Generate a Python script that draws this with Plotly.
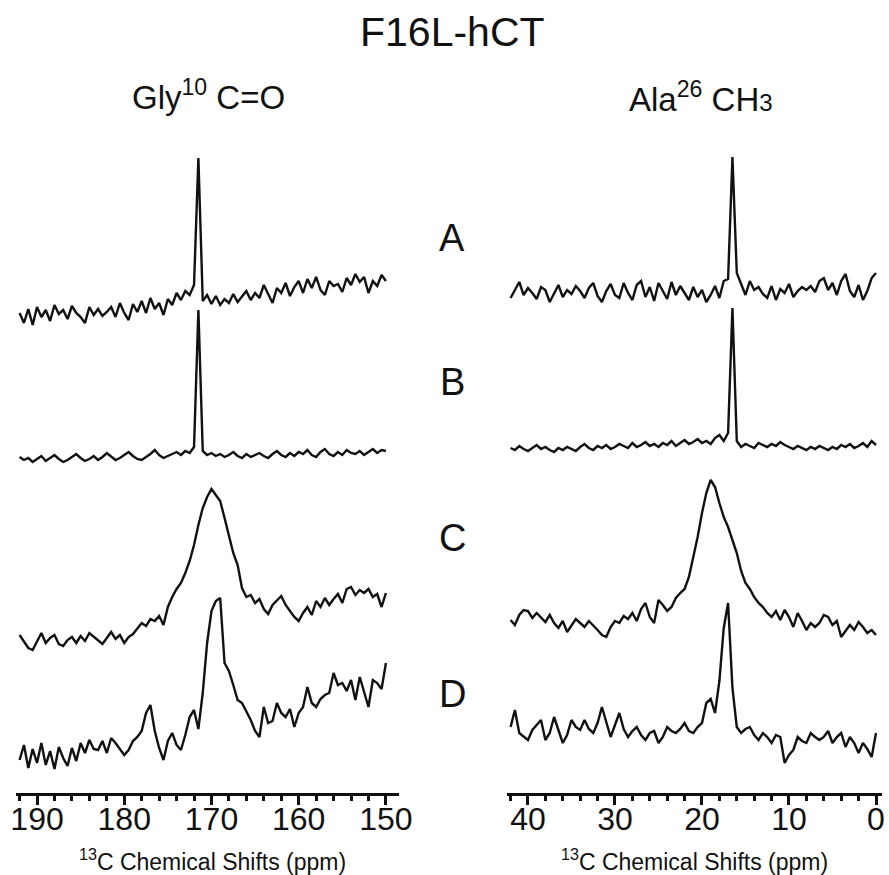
import plotly.graph_objects as go

# Chemical shift sampling (ppm)
GLY_PPM = [round(192.0 - 0.5 * k, 1) for k in range(85)]
ALA_PPM = [round(42.0 - 0.5 * k, 1) for k in range(85)]

# Gly10 C=O spectra (intensity, arbitrary units)
GLY_A = [480, 470, 484, 468, 486, 476, 483, 472, 488, 479,
         483, 474, 487, 480, 476, 470, 486, 478, 484, 477,
         481, 486, 476, 490, 480, 473, 489, 481, 492, 480,
         495, 484, 490, 478, 494, 488, 500, 493, 502, 498,
         508, 635, 492, 498, 489, 497, 488, 494, 490, 499,
         491, 496, 502, 493, 500, 495, 508, 499, 490, 505,
         500, 510, 497, 506, 512, 500, 514, 505, 516, 503,
         498, 512, 507, 509, 501, 515, 508, 519, 511, 516,
         500, 512, 507, 518, 512]
GLY_B = [336, 333, 335, 331, 334, 337, 332, 335, 338, 334,
         331, 333, 336, 339, 335, 332, 334, 337, 333, 336,
         340, 336, 333, 335, 338, 341, 337, 334, 333, 336,
         339, 343, 338, 335, 337, 339, 341, 338, 342, 340,
         346, 483, 342, 338, 340, 337, 339, 336, 338, 341,
         337, 335, 339, 336, 338, 340, 337, 335, 339, 342,
         338, 336, 340, 337, 341, 339, 343, 338, 336, 341,
         344, 339, 337, 341, 338, 343, 340, 339, 342, 338,
         341, 344, 340, 343, 342]
GLY_C = [158, 152, 145, 143, 152, 160, 150, 155, 158, 149,
         147, 153, 156, 150, 157, 152, 160, 156, 153, 149,
         155, 161, 154, 158, 150, 156, 159, 165, 170, 167,
         174, 172, 177, 168, 186, 196, 204, 210, 220, 232,
         248, 268, 285, 296, 304, 298, 292, 275, 258, 240,
         228, 205, 196, 198, 190, 194, 184, 179, 188, 192,
         197, 188, 182, 176, 172, 180, 186, 178, 192, 186,
         195, 188, 194, 199, 190, 204, 206, 198, 203, 200,
         204, 196, 199, 186, 200]
GLY_D = [33, 48, 25, 44, 30, 50, 28, 42, 24, 46,
         35, 27, 45, 32, 50, 40, 53, 44, 43, 52,
         40, 55, 50, 44, 38, 43, 52, 56, 62, 80,
         88, 62, 45, 33, 52, 60, 48, 43, 58, 76,
         83, 64, 100, 150, 182, 192, 195, 130, 122, 108,
         93, 90, 82, 73, 62, 56, 86, 70, 72, 90,
         80, 76, 84, 66, 80, 86, 106, 90, 86, 94,
         98, 100, 120, 108, 110, 102, 113, 93, 116, 100,
         86, 113, 110, 104, 130]

# Ala26 CH3 spectra
ALA_A = [495, 503, 511, 498, 505, 500, 494, 506, 503, 491,
         500, 508, 496, 503, 499, 507, 502, 495, 505, 510,
         497, 491, 502, 509, 498, 495, 510, 500, 493, 508,
         512, 496, 506, 492, 510, 502, 494, 511, 498, 507,
         500, 493, 506, 496, 503, 491, 498, 507, 495, 512,
         514, 636, 520, 508, 498, 512, 503, 506, 499, 495,
         507, 493, 504, 500, 509, 496, 502, 506, 503, 507,
         501, 512, 515, 503, 510, 498, 512, 519, 502, 496,
         508, 493, 502, 515, 520]
ALA_B = [345, 343, 347, 344, 342, 345, 348, 344, 346, 343,
         341, 345, 343, 346, 344, 342, 346, 349, 345, 343,
         347, 345, 348, 344, 346, 349, 347, 345, 350, 346,
         348, 351, 347, 349, 346, 350, 348, 352, 347, 350,
         353, 349, 351, 354, 350, 352, 349, 355, 358, 352,
         360, 485, 352, 346, 349, 347, 345, 350, 348, 346,
         349, 347, 351, 348, 346, 344, 347, 345, 343, 346,
         344, 347, 345, 343, 346, 344, 348, 346, 349, 345,
         347, 350, 346, 352, 348]
ALA_C = [173, 168, 178, 183, 182, 175, 180, 176, 171, 178,
         170, 165, 172, 161, 168, 174, 170, 166, 172, 168,
         163, 158, 156, 166, 172, 170, 177, 174, 180, 172,
         184, 190, 176, 170, 193, 188, 182, 186, 195, 200,
         204, 216, 236, 256, 280, 300, 313, 306, 290, 276,
         266, 252, 240, 222, 210, 204, 196, 190, 186, 180,
         176, 182, 173, 183, 176, 166, 180, 172, 163, 170,
         166, 170, 178, 176, 168, 172, 156, 162, 168, 163,
         171, 166, 160, 163, 158]
ALA_D = [66, 83, 60, 56, 53, 63, 68, 73, 53, 60,
         76, 62, 50, 58, 73, 66, 63, 73, 64, 60,
         70, 86, 72, 56, 68, 80, 64, 56, 62, 66,
         58, 53, 60, 62, 50, 56, 66, 62, 60, 64,
         70, 62, 60, 66, 70, 90, 94, 80, 112, 165,
         190, 105, 66, 60, 64, 66, 58, 53, 60, 56,
         50, 58, 56, 30, 38, 43, 56, 52, 50, 60,
         56, 53, 56, 62, 50, 56, 60, 46, 56, 50,
         40, 50, 44, 36, 60]

TRACE_LABELS = ["A", "B", "C", "D"]
GLY_TICKS = [190, 180, 170, 160, 150]
ALA_TICKS = [40, 30, 20, 10, 0]

FONT = "Liberation Sans, Arial, sans-serif"
W, H = 889, 875
PLOT_BOTTOM = 793  # pixel row of the axis lines

fig = go.Figure()
for ys in (GLY_A, GLY_B, GLY_C, GLY_D):
    fig.add_trace(go.Scatter(x=GLY_PPM, y=ys, mode="lines", xaxis="x", yaxis="y",
                             line=dict(color="#111111", width=2.4), showlegend=False,
                             hoverinfo="skip"))
for ys in (ALA_A, ALA_B, ALA_C, ALA_D):
    fig.add_trace(go.Scatter(x=ALA_PPM, y=ys, mode="lines", xaxis="x2", yaxis="y",
                             line=dict(color="#111111", width=2.4), showlegend=False,
                             hoverinfo="skip"))

axis_common = dict(
    showline=True, linecolor="#111111", linewidth=3, mirror=False,
    ticks="outside", ticklen=9, tickwidth=3, tickcolor="#111111",
    showgrid=False, zeroline=False, automargin=False,
    tickfont=dict(family=FONT, size=32, color="#111111"),
    ticklabelstandoff=-13,
    minor=dict(ticks="outside", dtick=2, ticklen=5, tickwidth=3, tickcolor="#111111"),
    tickmode="array",
)

fig.update_layout(
    width=W, height=H, autosize=False,
    margin=dict(l=0, r=0, t=0, b=H - PLOT_BOTTOM, autoexpand=False),
    paper_bgcolor="white", plot_bgcolor="white",
    xaxis=dict(domain=[16 / W, 399 / W], range=[192.41, 148.5], anchor="y",
               tickvals=GLY_TICKS, ticktext=[str(t) for t in GLY_TICKS], **axis_common),
    xaxis2=dict(domain=[507 / W, 882 / W], range=[42.41, -0.69], anchor="y",
                tickvals=ALA_TICKS, ticktext=[str(t) for t in ALA_TICKS], **axis_common),
    yaxis=dict(range=[0, PLOT_BOTTOM], visible=False, domain=[0, 1], automargin=False),
)


def py(pixel_y):
    return (PLOT_BOTTOM - pixel_y) / PLOT_BOTTOM


anns = [
    dict(text="F16L-hCT", x=452 / W, y=py(32), size=41, ya="middle"),
    dict(text="Gly<sup>10</sup> C=O", x=208 / W, y=py(95), size=33, ya="middle"),
    dict(text="Ala<sup>26</sup> CH<span style='font-size:24px'>3</span>", x=701 / W, y=py(97), size=33, ya="middle"),
    dict(text="<sup>13</sup>C Chemical Shifts (ppm)", x=212 / W, y=py(877), size=23, ya="bottom"),
    dict(text="<sup>13</sup>C Chemical Shifts (ppm)", x=694 / W, y=py(877), size=23, ya="bottom"),
]
for lab, yy in zip(TRACE_LABELS, [238, 382, 538, 694]):
    anns.append(dict(text=lab, x=452 / W, y=py(yy), size=38, ya="middle"))

for a in anns:
    fig.add_annotation(text=a["text"], x=a["x"], y=a["y"], xref="paper", yref="paper",
                       xanchor="center", yanchor=a["ya"], showarrow=False,
                       font=dict(family=FONT, size=a["size"], color="#111111"))

POST = ("document.body.style.margin='0';document.body.style.padding='0';"
        "document.body.style.overflow='hidden';"
        "document.documentElement.style.overflow='hidden';")

fig.write_html("out.html", config={"displayModeBar": False}, post_script=POST)
